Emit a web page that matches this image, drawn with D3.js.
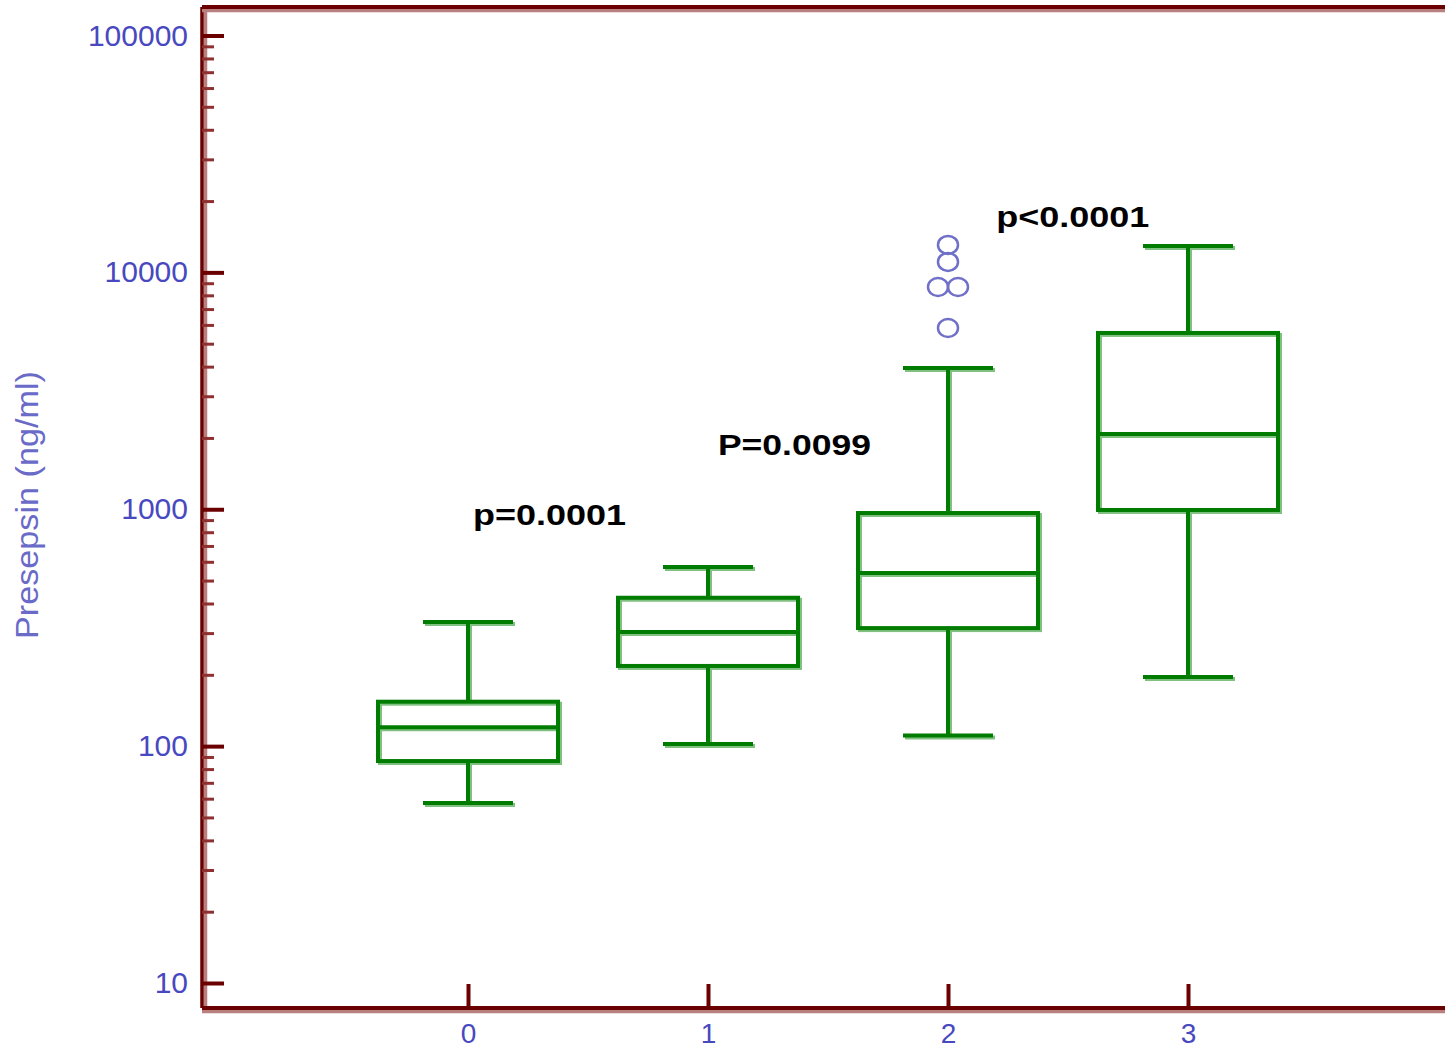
<!DOCTYPE html>
<html>
    <head>
        <title>Presepsin box plot</title>
        <style>
            body { margin:0; background:white; }
            svg { display:block; font-family:"Liberation Sans", Arial, sans-serif; }
        </style>
    </head>
    <body>
        <div id="chart"></div>
        <script src="https://d3js.org/d3.v7.min.js"></script>
        <script>
            // data
            var groups = [0, 1, 2, 3];
            var whiskerLow = [57.5, 102, 111, 196];
            var q1 = [86.5, 218, 315, 993];
            var median = [120, 303, 538, 2080];
            var q3 = [154, 423, 964, 5550];
            var whiskerHigh = [334, 570, 3950, 12920];
            var outlierGroup = [2, 2, 2, 2, 2];
            var outlierValue = [13060, 11070, 8670, 8670, 5820];
            var yTicks = [10, 100, 1000, 10000, 100000];
            var pLabels = ["p=0.0001", "P=0.0099", "p<0.0001"];
            var pAnchor = [0.34, 1.36, 2.52];   // centre of text, in group units
            var pHeight = [860, 1700, 15500];   // value on y at text baseline

            var width = 1445, height = 1050;
            var darkRed = "#6b0000", lightRed = "#b98080";
            var green = "#007d00", lightGreen = "#80c080";
            var blue = "#4848c0";

            var svg = d3.select('#chart').append('svg')
                .attr('width', width)
                .attr('height', height);

            var x = d3.scaleLinear().domain([0, 3]).range([468, 1188]);
            var y = d3.scaleLog().domain([10, 100000]).range([983, 35.5]);
            var half = (x(1) - x(0)) * 0.375;
            var capHalf = half / 2;

            // frame lines (dark line with light shadow)
            var frameLeft = 202, frameTop = 7, frameBottom = 1008;
            var frame = [
                [frameLeft, frameTop, frameLeft, frameBottom, 3.5, 0],
                [frameLeft, frameTop, width, frameTop, 4, 1],
                [frameLeft, frameBottom, width, frameBottom, 4, 1]
            ];
            frame.forEach(function(f){
                svg.append('line')
                    .attr('x1', f[0] + (f[5] ? 0 : 3.5)).attr('y1', f[1] + (f[5] ? 3.5 : 0))
                    .attr('x2', f[2] + (f[5] ? 0 : 3.5)).attr('y2', f[3] + (f[5] ? 3.5 : 0))
                    .attr('stroke', lightRed).attr('stroke-width', 3.5);
                svg.append('line')
                    .attr('x1', f[0]).attr('y1', f[1]).attr('x2', f[2]).attr('y2', f[3])
                    .attr('stroke', darkRed).attr('stroke-width', f[4]);
            });

            // minor ticks on y
            var minor = [];
            yTicks.slice(0, -1).forEach(function(t){
                for (var k = 2; k < 10; k++) minor.push(t * k);
            });
            var minorAxis = svg.append('g')
                .attr('transform', 'translate(' + frameLeft + ',0)')
                .call(d3.axisLeft(y).tickValues(minor).tickSize(-12).tickFormat(''));
            minorAxis.select('.domain').remove();
            minorAxis.selectAll('line').attr('stroke', '#8e3030').attr('stroke-width', 3);

            // major ticks on y
            var yAxis = svg.append('g')
                .attr('transform', 'translate(' + frameLeft + ',0)')
                .call(d3.axisLeft(y).tickValues(yTicks).tickSize(-22).tickPadding(14)
                    .tickFormat(d3.format('d')));
            yAxis.select('.domain').remove();
            yAxis.selectAll('line').attr('stroke', darkRed).attr('stroke-width', 4);
            yAxis.selectAll('text')
                .attr('fill', blue)
                .style('font-size', '30px')
                .style('font-family', '"Liberation Sans", Arial, sans-serif');

            // x ticks
            var xAxis = svg.append('g')
                .attr('transform', 'translate(0,' + frameBottom + ')')
                .call(d3.axisBottom(x).tickValues(groups).tickSize(-24).tickPadding(15)
                    .tickFormat(d3.format('d')));
            xAxis.select('.domain').remove();
            xAxis.selectAll('line').attr('stroke', darkRed).attr('stroke-width', 4);
            xAxis.selectAll('text')
                .attr('fill', blue)
                .style('font-size', '28px')
                .style('font-family', '"Liberation Sans", Arial, sans-serif');

            // y title
            svg.append('text')
                .attr('transform', 'translate(38,505) rotate(-90)')
                .attr('text-anchor', 'middle')
                .attr('fill', '#6a6ac8')
                .attr('textLength', 268)
                .attr('lengthAdjust', 'spacingAndGlyphs')
                .style('font-size', '32px')
                .text('Presepsin (ng/ml)');

            // boxes: light copy shifted, then dark on top
            function drawBoxes(g, color) {
                var b = g.selectAll('g.box')
                    .data(groups)
                    .enter().append('g')
                    .attr('class', 'box');
                b.append('line')
                    .attr('x1', function(d){ return x(d); })
                    .attr('x2', function(d){ return x(d); })
                    .attr('y1', function(d, i){ return y(whiskerHigh[i]); })
                    .attr('y2', function(d, i){ return y(q3[i]); });
                b.append('line')
                    .attr('x1', function(d){ return x(d); })
                    .attr('x2', function(d){ return x(d); })
                    .attr('y1', function(d, i){ return y(q1[i]); })
                    .attr('y2', function(d, i){ return y(whiskerLow[i]); });
                b.append('line')
                    .attr('x1', function(d){ return x(d) - capHalf; })
                    .attr('x2', function(d){ return x(d) + capHalf; })
                    .attr('y1', function(d, i){ return y(whiskerHigh[i]); })
                    .attr('y2', function(d, i){ return y(whiskerHigh[i]); });
                b.append('line')
                    .attr('x1', function(d){ return x(d) - capHalf; })
                    .attr('x2', function(d){ return x(d) + capHalf; })
                    .attr('y1', function(d, i){ return y(whiskerLow[i]); })
                    .attr('y2', function(d, i){ return y(whiskerLow[i]); });
                b.append('rect')
                    .attr('x', function(d){ return x(d) - half; })
                    .attr('width', half * 2)
                    .attr('y', function(d, i){ return y(q3[i]); })
                    .attr('height', function(d, i){ return y(q1[i]) - y(q3[i]); })
                    .attr('fill', 'none');
                b.append('line')
                    .attr('x1', function(d){ return x(d) - half; })
                    .attr('x2', function(d){ return x(d) + half; })
                    .attr('y1', function(d, i){ return y(median[i]); })
                    .attr('y2', function(d, i){ return y(median[i]); });
                b.selectAll('line, rect')
                    .attr('stroke', color)
                    .attr('stroke-width', 4);
            }
            drawBoxes(svg.append('g').attr('transform', 'translate(2,2)'), lightGreen);
            drawBoxes(svg.append('g'), green);

            // outliers: side by side when values repeat
            svg.selectAll('ellipse.out')
                .data(outlierValue)
                .enter().append('ellipse')
                .attr('class', 'out')
                .attr('cx', function(d, i){
                    var same = outlierValue.filter(function(v, j){ return v === d && outlierGroup[j] === outlierGroup[i]; }).length;
                    if (same < 2) return x(outlierGroup[i]);
                    var first = outlierValue.indexOf(d) === i;
                    return x(outlierGroup[i]) + (first ? -10 : 10);
                })
                .attr('cy', function(d){ return y(d); })
                .attr('rx', 10)
                .attr('ry', 9)
                .attr('fill', 'none')
                .attr('stroke', '#7070c8')
                .attr('stroke-width', 2.5);

            // p values
            svg.selectAll('text.p')
                .data(pLabels)
                .enter().append('text')
                .attr('class', 'p')
                .attr('x', function(d, i){ return x(pAnchor[i]); })
                .attr('y', function(d, i){ return y(pHeight[i]); })
                .attr('text-anchor', 'middle')
                .attr('textLength', 153)
                .attr('lengthAdjust', 'spacingAndGlyphs')
                .attr('fill', '#000')
                .style('font-size', '30px')
                .style('font-weight', 'bold')
                .text(function(d){ return d; });
        </script>
    </body>
</html>
